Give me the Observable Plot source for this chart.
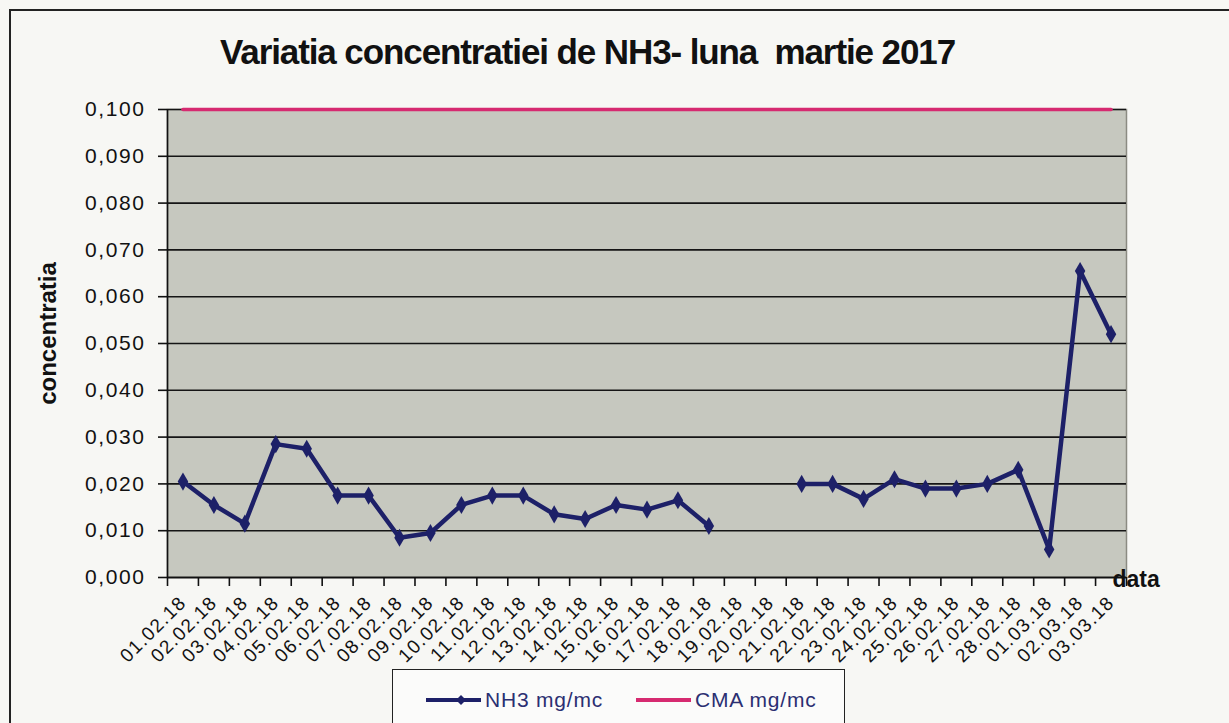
<!DOCTYPE html>
<html>
<head>
<meta charset="utf-8">
<script src="https://cdn.jsdelivr.net/npm/d3@7"></script>
<script src="https://cdn.jsdelivr.net/npm/@observablehq/plot@0.6"></script>
<style>
  html, body { margin: 0; padding: 0; background: #f7f7f4; }
  #wrap { position: relative; width: 1229px; height: 723px; overflow: hidden; background: #f7f7f4; font-family: "Liberation Sans", Arial, sans-serif; }
  #border { position: absolute; left: 9px; top: 9px; right: -10px; bottom: -10px; border-top: 2px solid #222; border-left: 2px solid #222; }
  #title { position: absolute; left: 0; width: 1175px; top: 32px; text-align: center; white-space: pre; font-family: "Liberation Sans", Arial, sans-serif; font-weight: bold; font-size: 35px; line-height: 40px; color: #111; letter-spacing: -1.1px; }
  #chart { position: absolute; left: 0; top: 80px; }
  #chart g[aria-label="y-axis tick label"], #chart g[aria-label="y-axis tick label"] text { font-size: 21px !important; letter-spacing: 1.6px; }
  #chart g[aria-label="x-axis tick label"], #chart g[aria-label="x-axis tick label"] text { font-size: 19px !important; letter-spacing: 1.3px; }
  #legend { position: absolute; left: 392px; top: 669px; width: 451px; height: 70px; border: 1.5px solid #222; background: #fbfbfa; }
  .item { position: absolute; top: 18px; display: flex; align-items: center; font-size: 21px; color: #2b2f72; letter-spacing: 0.8px; }
  .item svg { margin-right: 2px; }
</style>
</head>
<body>
<div id="wrap">
  <div id="border"></div>
  <div id="title"></div>
  <div id="chart"></div>
  <div id="legend"></div>
</div>
<script>
// ---- data ----
const titleText = "Variatia concentratiei de NH3- luna  martie 2017";
const yLabel = "concentratia";
const xLabel = "data";
const dates = ["01.02.18","02.02.18","03.02.18","04.02.18","05.02.18","06.02.18","07.02.18","08.02.18","09.02.18","10.02.18",
               "11.02.18","12.02.18","13.02.18","14.02.18","15.02.18","16.02.18","17.02.18","18.02.18","19.02.18","20.02.18",
               "21.02.18","22.02.18","23.02.18","24.02.18","25.02.18","26.02.18","27.02.18","28.02.18","01.03.18","02.03.18","03.03.18"];
const nh3 = [0.0205,0.0155,0.0115,0.0285,0.0275,0.0175,0.0175,0.0085,0.0095,0.0155,
             0.0175,0.0175,0.0135,0.0125,0.0155,0.0145,0.0165,0.011,null,null,
             0.020,0.020,0.0168,0.021,0.019,0.019,0.020,0.023,0.006,0.0655,0.052];
const cma = dates.map(() => 0.100);
const yTicks = [0,0.01,0.02,0.03,0.04,0.05,0.06,0.07,0.08,0.09,0.1];
const seriesNames = ["NH3 mg/mc", "CMA mg/mc"];
const colors = { nh3: "#1d2068", cma: "#d62a70" };

// ---- build table ----
const rows = dates.map((d, i) => ({ i, date: d, nh3: nh3[i], cma: cma[i] }));
const idx = d3.range(dates.length);
const bounds = d3.range(dates.length + 1).map(k => k - 0.5);
const fmt = v => v.toFixed(3).replace(".", ",");

document.getElementById("title").textContent = titleText;

const plot = Plot.plot({
  width: 1229,
  height: 590,
  marginLeft: 167,
  marginRight: 103,
  marginTop: 29,
  marginBottom: 93,
  style: { fontFamily: "'Liberation Sans', Arial, sans-serif", fontSize: "20px", color: "#111", background: "transparent", overflow: "visible" },
  x: { type: "linear", domain: [-0.5, dates.length - 0.5], axis: null },
  y: { domain: [0, 0.1], axis: null },
  marks: [
    Plot.frame({ fill: "#c6c8bf", stroke: "#8b8b82", strokeWidth: 1.5 }),
    Plot.gridY(yTicks, { stroke: "#151515", strokeOpacity: 1, strokeWidth: 1.6 }),
    Plot.axisY(yTicks, { tickSize: 9, tickPadding: 13, tickFormat: fmt, label: null, stroke: "#111", strokeWidth: 1.6 }),
    Plot.ruleX([-0.5], { stroke: "#111", strokeWidth: 1.6 }),
    Plot.ruleY([0], { stroke: "#111", strokeWidth: 1.6 }),
    Plot.axisX(bounds, { tickSize: 9, tickFormat: () => "", label: null, stroke: "#111", strokeWidth: 1.6 }),
    Plot.axisX(idx, { tickSize: 0, tickPadding: 22, tickRotate: -45, tickFormat: i => dates[i], label: null }),
    Plot.line(rows, { x: "i", y: "cma", stroke: colors.cma, strokeWidth: 3.5 }),
    Plot.line(rows, { x: "i", y: "nh3", stroke: colors.nh3, strokeWidth: 4.5, strokeLinejoin: "round" }),
    Plot.dot(rows.filter(r => r.nh3 != null), { x: "i", y: "nh3", symbol: "diamond", fill: colors.nh3, r: 5.5 }),
    Plot.text([yLabel], { frameAnchor: "left", textAnchor: "middle", rotate: -90, dx: -119, dy: -10, fontWeight: "bold", fontSize: 24 }),
    Plot.text([xLabel], { frameAnchor: "bottom-right", textAnchor: "start", dx: -14, dy: 9, fontWeight: "bold", fontSize: 23 })
  ]
});
document.getElementById("chart").appendChild(plot);

// ---- legend ----
const legend = document.getElementById("legend");
const items = [
  { name: seriesNames[0], color: colors.nh3, marker: true, left: 32 },
  { name: seriesNames[1], color: colors.cma, marker: false, left: 242 }
];
items.forEach(it => {
  const div = document.createElement("div");
  div.className = "item";
  div.style.left = it.left + "px";
  const ns = "http://www.w3.org/2000/svg";
  const svg = document.createElementNS(ns, "svg");
  svg.setAttribute("width", 58); svg.setAttribute("height", 14);
  const ln = document.createElementNS(ns, "line");
  ln.setAttribute("x1", 1); ln.setAttribute("x2", 56); ln.setAttribute("y1", 7); ln.setAttribute("y2", 7);
  ln.setAttribute("stroke", it.color); ln.setAttribute("stroke-width", 4);
  svg.appendChild(ln);
  if (it.marker) {
    const p = document.createElementNS(ns, "path");
    p.setAttribute("d", "M36,2 L41,7 L36,12 L31,7 Z");
    p.setAttribute("fill", it.color);
    svg.appendChild(p);
  }
  div.appendChild(svg);
  const span = document.createElement("span");
  span.textContent = it.name;
  div.appendChild(span);
  legend.appendChild(div);
});
</script>
</body>
</html>
